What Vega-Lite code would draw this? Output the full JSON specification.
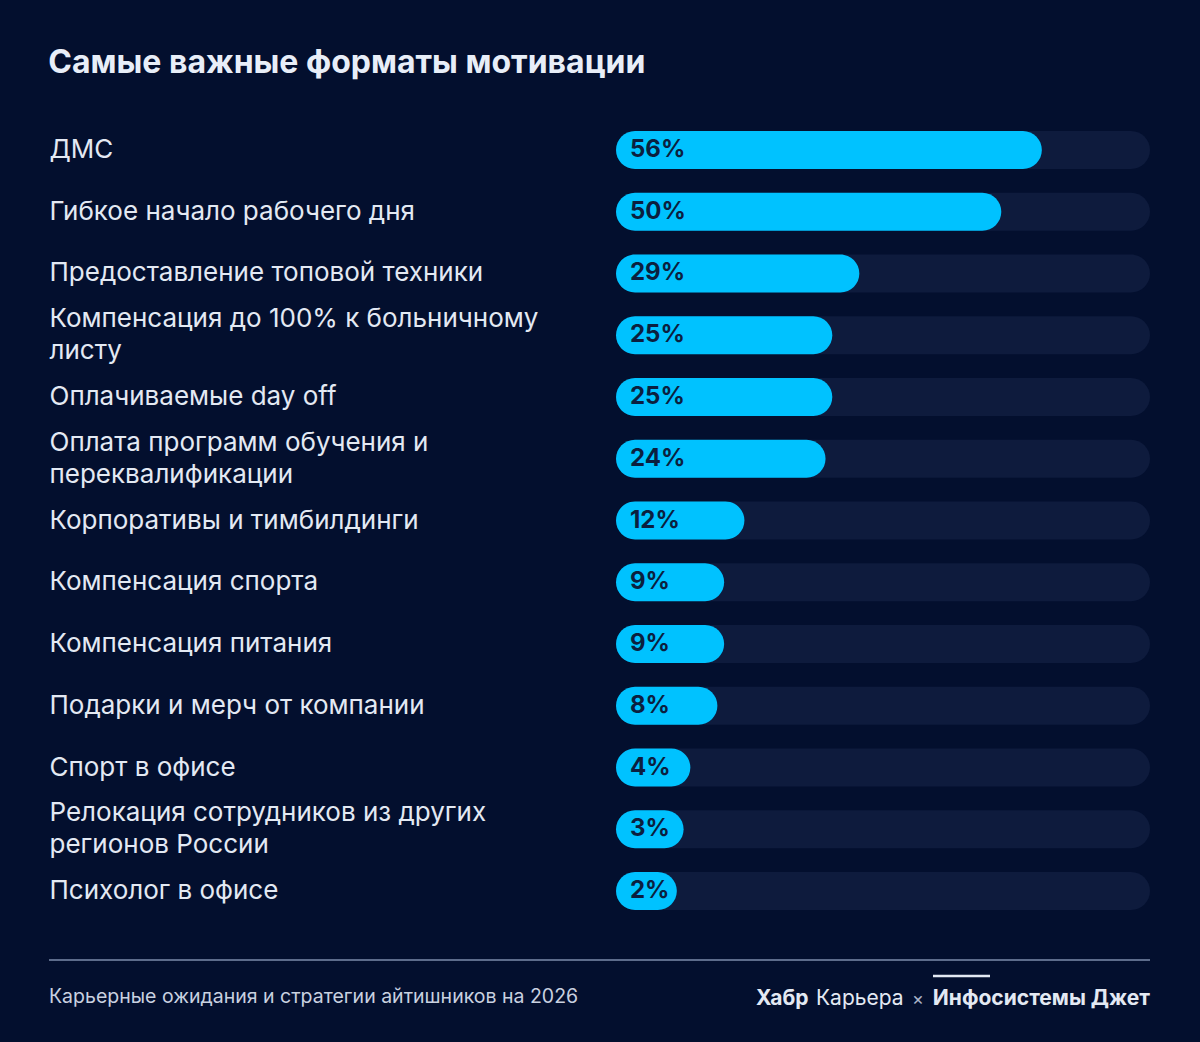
{
  "$schema": "https://vega.github.io/schema/vega-lite/v6.json",
  "width": 534,
  "height": 803,
  "autosize": {"type": "none"},
  "padding": {"left": 616, "top": 119, "right": 50, "bottom": 120},
  "background": "#030f2e",
  "title": {
    "text": "Самые важные форматы мотивации",
    "anchor": "start",
    "baseline": "alphabetic",
    "offset": 14,
    "font": "Inter",
    "fontSize": 32,
    "fontWeight": 700,
    "color": "#e8eef8"
  },
  "data": {
    "values": [
      {"name": "ДМС", "share": 0.56},
      {"name": "Гибкое начало рабочего дня", "share": 0.50},
      {"name": "Предоставление топовой техники", "share": 0.29},
      {"name": "Компенсация до 100% к больничному\nлисту", "share": 0.25},
      {"name": "Оплачиваемые day off", "share": 0.25},
      {"name": "Оплата программ обучения и\nпереквалификации", "share": 0.24},
      {"name": "Корпоративы и тимбилдинги", "share": 0.12},
      {"name": "Компенсация спорта", "share": 0.09},
      {"name": "Компенсация питания", "share": 0.09},
      {"name": "Подарки и мерч от компании", "share": 0.08},
      {"name": "Спорт в офисе", "share": 0.04},
      {"name": "Релокация сотрудников из других\nрегионов России", "share": 0.03},
      {"name": "Психолог в офисе", "share": 0.02}
    ]
  },
  "encoding": {
    "y": {
      "field": "name",
      "type": "nominal",
      "sort": null,
      "scale": {"paddingInner": 0, "paddingOuter": 0},
      "axis": {
        "title": null,
        "domain": false,
        "ticks": false,
        "labelAlign": "left",
        "labelBaseline": "middle",
        "labelPadding": 567,
        "labelFont": "Inter",
        "labelFontSize": 26,
        "labelColor": "#e3e9f3",
        "labelLineHeight": 32,
        "labelLimit": 560,
        "labelOffset": {"expr": "indexof(datum.value, '\\n') >= 0 ? -16 : 0"},
        "labelExpr": "split(datum.label, '\\n')"
      }
    }
  },
  "layer": [
    {
      "mark": {"type": "bar", "height": 38, "cornerRadius": 19, "color": "#0e1b3d"},
      "encoding": {
        "x": {"datum": 0.72, "type": "quantitative", "scale": {"domain": [-0.07, 0.72], "nice": false, "zero": false}, "axis": null},
        "x2": {"datum": -0.07}
      }
    },
    {
      "mark": {"type": "bar", "height": 38, "cornerRadius": 19, "color": "#00c2ff"},
      "encoding": {
        "x": {"field": "share", "type": "quantitative"},
        "x2": {"datum": -0.07}
      }
    },
    {
      "mark": {"type": "text", "align": "left", "baseline": "middle", "dx": 14, "font": "Inter", "fontSize": 24, "fontWeight": 700, "color": "#0b1f3f"},
      "encoding": {
        "x": {"datum": -0.07, "type": "quantitative"},
        "text": {"field": "share", "type": "quantitative", "format": ".0%"}
      }
    },
    {
      "data": {"values": [{"k": 1}]},
      "mark": {"type": "rule", "color": "#7d8cab", "strokeWidth": 1.5},
      "encoding": {
        "x": {"value": -567},
        "x2": {"value": 534},
        "y": {"value": 841}
      }
    },
    {
      "data": {"values": [{"t": "Карьерные ожидания и стратегии айтишников на 2026"}]},
      "mark": {"type": "text", "align": "left", "baseline": "middle", "font": "Inter", "fontSize": 19.5, "color": "#c9d1e0"},
      "encoding": {"x": {"value": -567}, "y": {"value": 878}, "text": {"field": "t"}}
    },
    {
      "data": {"values": [{"t": "Хабр"}]},
      "mark": {"type": "text", "align": "left", "baseline": "middle", "font": "Inter", "fontSize": 21, "fontWeight": 700, "color": "#e3e9f3"},
      "encoding": {"x": {"value": 140}, "y": {"value": 880}, "text": {"field": "t"}}
    },
    {
      "data": {"values": [{"t": "Карьера"}]},
      "mark": {"type": "text", "align": "left", "baseline": "middle", "font": "Inter", "fontSize": 21, "color": "#e3e9f3"},
      "encoding": {"x": {"value": 200}, "y": {"value": 880}, "text": {"field": "t"}}
    },
    {
      "data": {"values": [{"t": "×"}]},
      "mark": {"type": "text", "align": "left", "baseline": "middle", "font": "Inter", "fontSize": 18, "color": "#aab4c8"},
      "encoding": {"x": {"value": 296}, "y": {"value": 881}, "text": {"field": "t"}}
    },
    {
      "data": {"values": [{"t": "Инфосистемы Джет"}]},
      "mark": {"type": "text", "align": "right", "baseline": "middle", "font": "Inter", "fontSize": 21, "fontWeight": 700, "color": "#e3e9f3"},
      "encoding": {"x": {"value": 534}, "y": {"value": 880}, "text": {"field": "t"}}
    },
    {
      "data": {"values": [{"k": 1}]},
      "mark": {"type": "rule", "color": "#e3e9f3", "strokeWidth": 2.5},
      "encoding": {
        "x": {"value": 317},
        "x2": {"value": 374},
        "y": {"value": 857}
      }
    }
  ],
  "config": {"view": {"stroke": null}}
}
